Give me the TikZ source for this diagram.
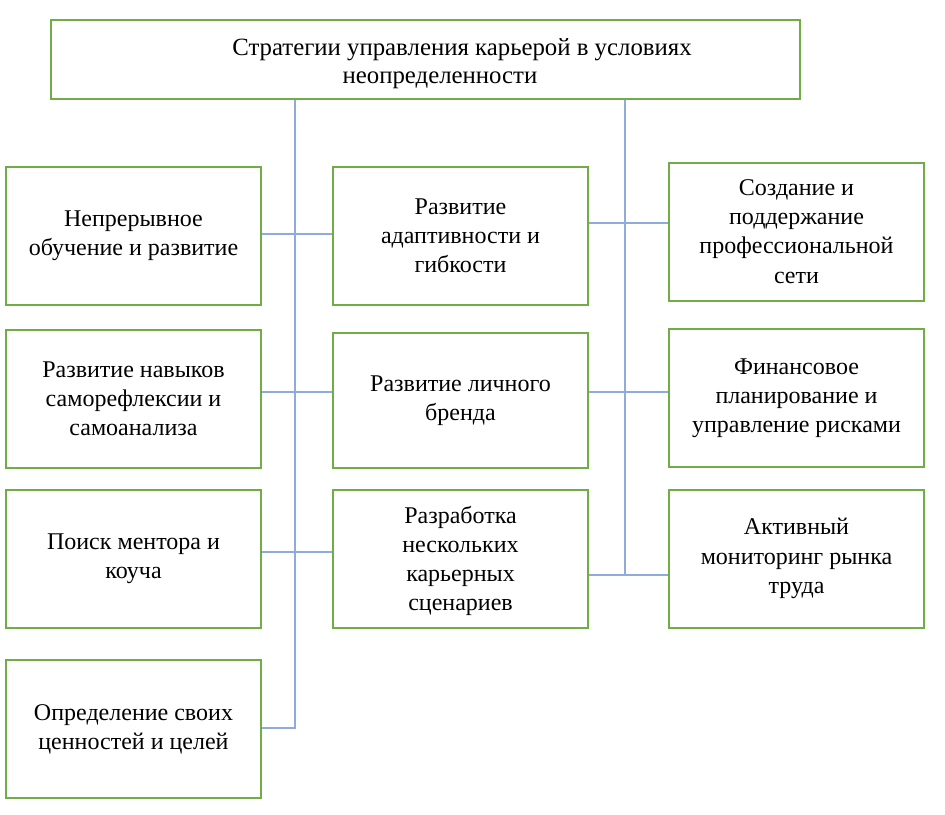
\documentclass[tikz,border=0pt]{standalone}
\usepackage{fontspec}
\setmainfont{Liberation Serif}
\usetikzlibrary{positioning,calc}
\definecolor{boxgreen}{RGB}{112,173,71}
\definecolor{linkblue}{RGB}{143,170,220}

\begin{document}
\begin{tikzpicture}[x=0.5pt, y=-0.5pt,
    box/.style={draw=boxgreen, line width=1pt, minimum width=127.5pt, minimum height=69pt,
        inner sep=2pt, align=center, font=\fontsize{12}{14.6}\selectfont},
    link/.style={draw=linkblue, line width=0.9pt},
]
    \useasboundingbox (0,0) rectangle (945,814);
    % Title
    \node[box, minimum width=374.5pt, minimum height=39.5pt] (top) at (425.5,59.5) {};
    \node[align=center, inner sep=0pt, font=\fontsize{12.4}{14}\selectfont] (title) at (440,64)
        {\hspace*{22pt}Стратегии управления карьерой в условиях\\неопределенности};
    % Left column
    \node[box] (l1) at (133.5,236) {Непрерывное\\обучение и развитие};
    \node[box] (l2) at (133.5,398.5) {Развитие навыков\\саморефлексии и\\самоанализа};
    \node[box] (l3) at (133.5,558.5) {Поиск ментора и\\коуча};
    \node[box] (l4) at (133.5,729) {Определение своих\\ценностей и целей};
    % Middle column
    \node[box] (m1) at (460.5,235.5) {Развитие\\адаптивности и\\гибкости};
    \node[box, minimum height=67.5pt] (m2) at (460.5,400.5) {Развитие личного\\бренда};
    \node[box, text depth=-6pt] (m3) at (460.5,558.5) {Разработка\\нескольких\\карьерных\\сценариев};
    % Right column
    \node[box] (r1) at (796.5,231.5) {Создание и\\поддержание\\профессиональной\\сети};
    \node[box] (r2) at (796.5,398) {Финансовое\\планирование и\\управление рисками};
    \node[box] (r3) at (796.5,558.5) {Активный\\мониторинг рынка\\труда};
    % Trunk ends and junctions
    \coordinate (lt) at (295,728);
    \coordinate (rt) at (625,575);
    \coordinate (ja) at (295,234);
    \coordinate (jb) at (295,392);
    \coordinate (jc) at (295,552);
    \coordinate (ka) at (625,223);
    \coordinate (kb) at (625,392);
    % Left trunk
    \draw[link] (top.south -| lt) -- (lt) -- (l4.east |- lt);
    \draw[link] (l1.east |- ja) -- (m1.west |- ja);
    \draw[link] (l2.east |- jb) -- (m2.west |- jb);
    \draw[link] (l3.east |- jc) -- (m3.west |- jc);
    % Right trunk
    \draw[link] (top.south -| rt) -- (rt);
    \draw[link] (m1.east |- ka) -- (r1.west |- ka);
    \draw[link] (m2.east |- kb) -- (r2.west |- kb);
    \draw[link] (m3.east |- rt) -- (r3.west |- rt);
\end{tikzpicture}
\end{document}
